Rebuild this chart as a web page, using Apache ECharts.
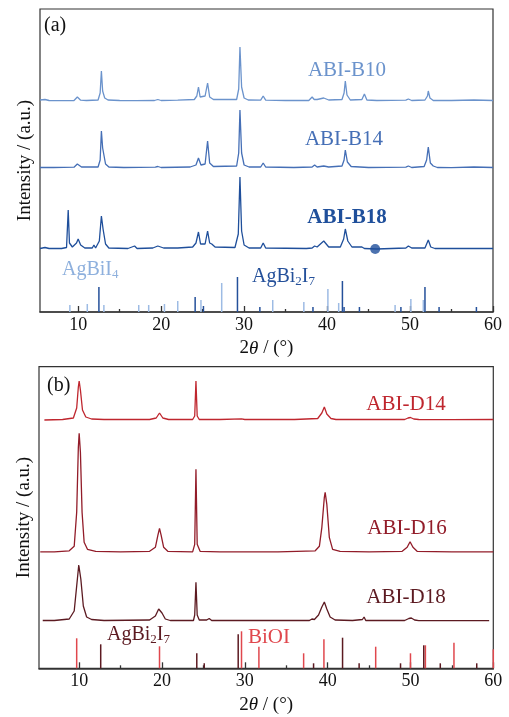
<!DOCTYPE html>
<html><head><meta charset="utf-8">
<script src="https://cdn.jsdelivr.net/npm/echarts@6/dist/echarts.min.js"></script>
<style>html,body{margin:0;padding:0;background:#fff}#c{width:509px;height:717px}</style>
</head><body><div id="c"></div>
<script>
// ---------- DATA (2θ in degrees, intensity in arbitrary units) ----------
var majorTicks = [10, 20, 30, 40, 50, 60];
var minorTicks = [15, 25, 35, 45, 55];

// Panel (a)
var abiB10 = [[5.4,1],[6,1.5],[6.5,0.5],[7.5,0.3],[9.5,0.5],[9.9,4],[10.3,0.8],[11,0.5],[12.4,1],[12.65,8],[12.8,30],[12.95,10],[13.2,3],[13.6,1],[15,0.5],[17,0.3],[19.2,0.5],[19.6,1.5],[20,0.5],[22,0.8],[24,1.5],[24.3,5],[24.5,14],[24.7,4],[25.3,5],[25.6,18],[25.85,4],[26.3,1.5],[29.1,1.5],[29.35,12],[29.5,54],[29.7,14],[30,3],[30.5,1],[32,0.8],[32.3,5],[32.6,0.8],[35,0.5],[37.8,0.5],[38.2,4],[38.45,1.5],[38.8,1.5],[39.6,3],[40.2,1],[41.8,1.5],[42.05,8],[42.2,20],[42.4,6],[42.8,1],[44.2,1.5],[44.5,7],[44.8,1],[46,0.5],[49.5,0.8],[49.8,2],[50.2,0.5],[51.8,1],[52.1,5],[52.2,10],[52.4,3],[52.8,0.5],[55,0.5],[57.7,1],[60,0.5]];
var abiB14 = [[5.4,0.5],[7,0.5],[9.5,0.8],[9.9,4],[10.4,1],[12.4,1],[12.65,8],[12.8,37],[12.95,20],[13.1,18],[13.3,4],[13.7,1],[15.5,0.5],[19.3,0.8],[19.6,1.5],[20,0.5],[23.5,1],[24.2,3],[24.5,10],[24.8,3],[25.3,4],[25.6,27],[25.85,5],[26.3,1.5],[29.1,2],[29.35,15],[29.5,58],[29.7,15],[30,3],[30.6,1],[32,1],[32.3,5],[32.6,1],[36,0.5],[38.2,1],[38.5,3],[38.8,1],[39.6,2],[40.2,1],[41.8,2],[42.05,8],[42.2,18],[42.45,6],[42.9,1.5],[45,0.5],[49.5,0.8],[49.8,2],[50.2,0.5],[51.7,1.5],[52.0,8],[52.2,21],[52.45,5],[52.8,2],[53.0,3],[53.3,0.5],[55,0.3],[57.7,1],[60,0.5]];
var abiB18 = [[5.4,0.5],[6,1.5],[6.5,0.5],[8,0.5],[8.6,1.5],[8.8,39],[8.95,6],[9.3,2],[9.8,6],[10.0,10],[10.3,4],[10.8,1],[11.7,1],[11.9,4],[12.1,1],[12.55,8],[12.8,33],[13.0,20],[13.1,18],[13.3,5],[13.7,1],[16,0.5],[16.8,3],[17.1,0.5],[19,1],[19.6,3],[20.3,1],[22,1],[23.8,2],[24.2,6],[24.5,17],[24.75,5],[25.3,5],[25.6,18],[25.85,6],[26.1,5],[26.5,2],[28.9,1.5],[29.3,15],[29.5,72],[29.7,18],[30,4],[30.6,1],[32,1],[32.3,6],[32.6,1],[37.5,0.5],[38.2,1],[38.5,3],[38.8,2],[39.6,8],[40.2,2],[41.6,2],[42.0,10],[42.2,20],[42.5,8],[43,2],[44.2,2],[44.5,0.5],[46,0],[49.5,1],[49.8,3],[50.2,1],[51.8,1],[52.2,9],[52.5,2],[53,0.5],[57,0.5],[60,0.5]];
var markerB18 = [[45.8, 0]];
var refAgBiI4 = [[9.0,7],[11.1,8],[13.1,7],[17.3,7],[18.5,7],[20.4,8],[22.0,11],[24.8,12],[27.3,29],[33.45,12],[37.2,10],[40.1,23],[41.4,9],[48.2,7],[50.1,13],[51.6,12]];
var refAgBi2I7a = [[12.5,25],[24.1,15],[25.1,6],[29.2,35],[31.9,5],[38.3,5],[41.85,31],[42.05,5],[43.9,5],[48.9,5],[51.8,25],[53.5,5],[58.0,5]];

// Panel (b)
var abiD14 = [[5.8,0],[6,0.5],[8,0.5],[9.3,2],[9.7,12],[9.9,33],[10.0,39],[10.15,30],[10.4,10],[10.8,3],[11.5,1],[13.0,0.5],[13.2,2],[13.4,0.5],[16,0.5],[18.5,0.5],[19.3,2],[19.7,7],[20.1,2],[20.8,0.5],[23.7,0.5],[23.95,4],[24.1,39],[24.25,4],[24.5,0.5],[27,0.5],[29.6,1.2],[30,0.5],[36,0.5],[38.8,1.5],[39.3,7],[39.6,13],[39.9,6],[40.4,1.5],[41,0.5],[45,0.5],[49.3,0.5],[49.7,2],[50.0,2.5],[50.4,1],[51,0.5],[55,0.3],[60,0.5]];
var abiD16 = [[5.3,0.5],[7,0.5],[8.8,1.5],[9.4,6],[9.7,40],[9.9,105],[10.0,119],[10.15,100],[10.35,40],[10.6,10],[11,3],[12,1],[15,0.5],[18.5,1],[19.2,5],[19.5,17],[19.7,24],[19.9,17],[20.2,5],[20.7,1],[23.7,0.5],[23.95,8],[24.1,83],[24.25,8],[24.6,1],[27,0.5],[34,0.5],[38.5,1.5],[39.0,6],[39.3,25],[39.6,55],[39.7,60],[39.9,48],[40.2,15],[40.6,3],[41.5,1],[45,0.5],[49,1],[49.6,5],[49.95,10.6],[50.3,5],[50.8,1],[55,0.5],[60,0.5]];
var abiD18 = [[5.6,0.5],[7,0.5],[8.8,2],[9.4,10],[9.7,35],[9.95,56],[10.2,42],[10.5,15],[10.9,4],[11.5,1.5],[13,0.5],[18.5,1],[19.2,5],[19.6,12],[20.0,8],[20.4,2],[21,0.5],[23.8,0.5],[23.95,6],[24.1,38.7],[24.25,6],[24.5,1],[25.4,1],[25.7,2.5],[26,0.5],[30,0.5],[37.8,0.5],[38.1,2],[38.4,1.5],[38.9,6],[39.3,14],[39.6,19],[39.9,12],[40.3,4],[40.9,1],[43,0.5],[44.2,1.5],[44.4,4],[44.6,0.5],[46,0.5],[49.3,0.5],[49.8,2.5],[50.1,3],[50.5,1],[51,0.3],[55,0.3],[59.5,0.3]];
var refBiOI = [[9.7,30],[19.7,22],[29.6,37],[31.7,21.6],[37.1,15],[39.55,29],[45.8,21.6],[50.0,15],[51.8,23],[55.25,25.6],[60.0,19]];
var refAgBi2I7b = [[12.6,24],[24.2,15],[25.1,5],[29.2,34],[38.3,5],[41.8,30.6],[43.8,5],[48.8,5],[51.6,23],[53.6,5],[58.0,5]];

// ---------- CHART ----------
var FONT = "'Liberation Serif','Times New Roman',serif";
var C = {
  b10:'#6b93cc', b14:'#456fb6', b18:'#1f4f9b', agbii4:'#9dbbe4', agbii4Txt:'#8eb0dd', agbi2i7a:'#24509a',
  d14:'#bf262e', d16:'#921c29', d18:'#5c1a21', bioi:'#e0474d', agbi2i7b:'#5c1a21', axis:'#333'
};
function shift(arr, off){ return arr.map(function(p){ return [p[0], p[1] + off]; }); }
function line(name, data, off, color, idx){
  return {name:name, type:'line', xAxisIndex:idx*2, yAxisIndex:idx, data:shift(data, off), showSymbol:false,
    lineStyle:{color:color, width:1.3}, itemStyle:{color:color}, silent:true, animation:false, z:3};
}
function sticks(name, data, color, idx){
  return {name:name, type:'custom', xAxisIndex:idx*2, yAxisIndex:idx, data:data, clip:false, silent:true, animation:false,
    encode:{x:0, y:1},
    renderItem:function(params, api){
      var a = api.coord([api.value(0), 0]);
      var b = api.coord([api.value(0), api.value(1)]);
      return {type:'line', shape:{x1:a[0], y1:a[1], x2:b[0], y2:b[1]}, style:{stroke:color, lineWidth:1.5}};
    }};
}
function xAxes(gi, min){
  return [
    {gridIndex:gi, type:'value', min:min, max:60, position:'bottom',
      axisLine:{show:true, lineStyle:{color:C.axis, width:1.5}},
      axisTick:{show:true, inside:true, length:6, customValues:majorTicks, lineStyle:{color:C.axis, width:1.3}},
      axisLabel:{show:true, customValues:majorTicks, margin:4, color:'#111', fontSize:18, fontFamily:FONT},
      splitLine:{show:false},
      name:'2{i|θ} / (°)', nameLocation:'middle', nameGap:27,
      nameTextStyle:{color:'#111', fontSize:19, fontFamily:FONT, rich:{i:{fontStyle:'italic', fontSize:19, fontFamily:FONT, color:'#111'}}}},
    {gridIndex:gi, type:'value', min:min, max:60, position:'bottom',
      axisLine:{show:false},
      axisTick:{show:true, inside:true, length:3, customValues:minorTicks, lineStyle:{color:C.axis, width:1.3}},
      axisLabel:{show:false}, splitLine:{show:false}}
  ];
}
function yAxis(gi, max){
  return {gridIndex:gi, type:'value', min:0, max:max, axisLine:{show:false}, axisTick:{show:false},
    axisLabel:{show:false}, splitLine:{show:false},
    name:'Intensity / (a.u.)', nameLocation:'middle', nameGap:5, nameRotate:90,
    nameTextStyle:{color:'#111', fontSize:19, fontFamily:FONT}};
}
function txt(x, y, text, color, size, opts){
  opts = opts || {};
  return {type:'text', x:x, y:y, z:10, silent:true, style:{
    text:text, fill:color, fontSize:size, fontFamily:FONT, fontWeight:opts.bold?'bold':'normal',
    align:opts.align||'center', verticalAlign:'middle', rich:opts.rich}};
}
function subRich(color){
  return {n:{fontSize:20, fontFamily:FONT, color:color},
          s:{fontSize:13, fontFamily:FONT, color:color, padding:[9,0,0,0]}};
}

var chart = echarts.init(document.getElementById('c'), null, {renderer:'canvas'});
chart.setOption({
  backgroundColor:'#fff',
  animation:false,
  grid:[
    {left:40, right:16, top:9, height:303, show:true, borderColor:C.axis, borderWidth:1.2, backgroundColor:'transparent', containLabel:false},
    {left:39, right:15.7, top:366.7, height:301.6, show:true, borderColor:C.axis, borderWidth:1.2, backgroundColor:'transparent', containLabel:false}
  ],
  xAxis: xAxes(0, 5.4).concat(xAxes(1, 5.15)),
  yAxis:[yAxis(0, 303), yAxis(1, 301.6)],
  series:[
    line('ABI-B10', abiB10, 211, C.b10, 0),
    line('ABI-B14', abiB14, 144, C.b14, 0),
    line('ABI-B18', abiB18, 63, C.b18, 0),
    {name:'marker', type:'scatter', xAxisIndex:0, yAxisIndex:0, data:shift(markerB18, 63), symbolSize:10,
      itemStyle:{color:C.b18}, silent:true, z:4},
    sticks('AgBiI4', refAgBiI4, C.agbii4, 0),
    sticks('AgBi2I7', refAgBi2I7a, C.agbi2i7a, 0),
    line('ABI-D14', abiD14, 248.3, C.d14, 1),
    line('ABI-D16', abiD16, 116, C.d16, 1),
    line('ABI-D18', abiD18, 47.3, C.d18, 1),
    sticks('BiOI', refBiOI, C.bioi, 1),
    sticks('AgBi2I7 (b)', refAgBi2I7b, C.agbi2i7b, 1)
  ],
  graphic:[
    txt(44, 25.5, '(a)', '#111', 20, {align:'left'}),
    txt(47, 386, '(b)', '#111', 20, {align:'left'}),
    txt(347, 70, 'ABI-B10', C.b10, 21),
    txt(344, 139, 'ABI-B14', C.b14, 21),
    txt(347, 218, 'ABI-B18', C.b18, 21, {bold:true}),
    txt(62, 270, '{n|AgBiI}{s|4}', C.agbii4Txt, 20, {align:'left', rich:subRich(C.agbii4Txt)}),
    txt(252, 277, '{n|AgBi}{s|2}{n|I}{s|7}', C.agbi2i7a, 20, {align:'left', rich:subRich(C.agbi2i7a)}),
    txt(406, 404, 'ABI-D14', C.d14, 21),
    txt(407, 528, 'ABI-D16', C.d16, 21),
    txt(406, 597, 'ABI-D18', C.d18, 21),
    txt(107, 635, '{n|AgBi}{s|2}{n|I}{s|7}', C.agbi2i7b, 21, {align:'left', rich:subRich(C.agbi2i7b)}),
    txt(248, 637, 'BiOI', C.bioi, 21, {align:'left'})
  ]
});
</script></body></html>
